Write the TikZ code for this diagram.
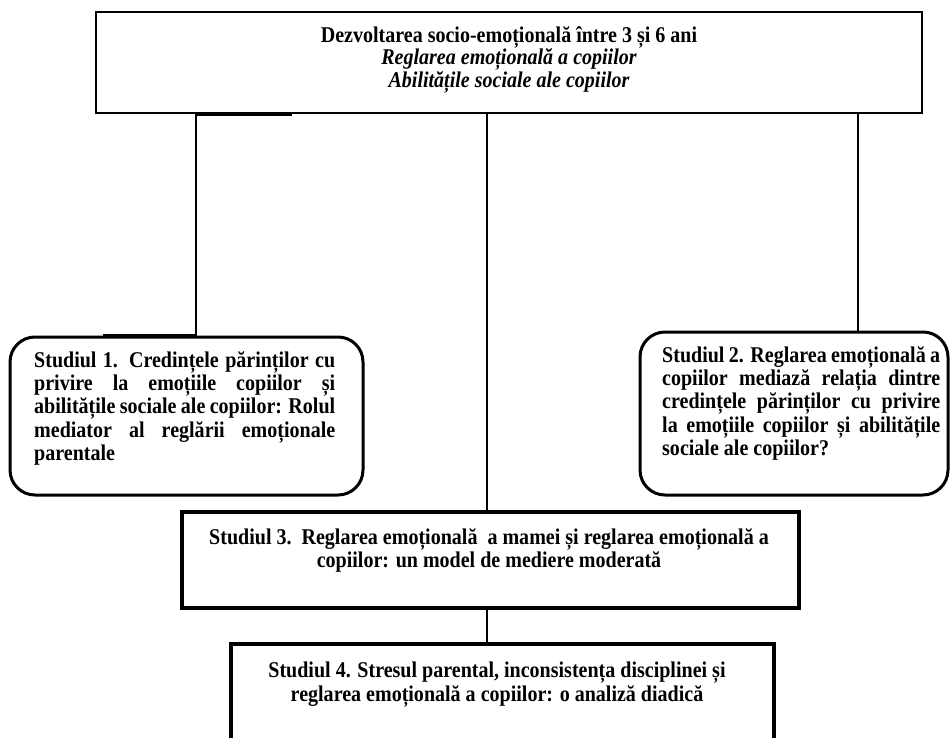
\documentclass[tikz,border=0pt]{standalone}
\usepackage{fontspec}
\setmainfont{Liberation Serif}[FakeStretch=0.89]
\begin{document}
\begin{tikzpicture}[x=1pt,y=-1pt]
\tikzset{
  topbox/.style={draw, line width=2pt, inner sep=0pt},
  sqbox/.style={draw, line width=3.3pt, inner sep=0pt},
  rbox/.style={draw, line width=3pt, rounded corners=25pt, inner sep=0pt},
  conn/.style={line width=2pt},
  heavy/.style={line width=3.6pt},
  txt/.style={font=\fontsize{22.5}{23.4}\selectfont\bfseries, inner sep=0pt},
  ctxt/.style={txt, align=center},
  ltxt/.style={txt, align=left},
}
\useasboundingbox (0,0) rectangle (951,738);
% boxes
\node[topbox, minimum width=826pt, minimum height=101pt] (top) at (509,62.5) {};
\node[rbox, minimum width=353pt, minimum height=158pt] (s1) at (186.5,416) {};
\node[rbox, minimum width=308pt, minimum height=163pt] (s2) at (794,413.5) {};
\node[sqbox, minimum width=617pt, minimum height=96pt] (s3) at (490.5,560) {};
\node[sqbox, minimum width=543pt, minimum height=120pt] (s4) at (502.5,704) {};
% texts
\node[ctxt, font=\fontsize{22.5}{20.5}\selectfont\bfseries, anchor=north] (toptxt) at (509,26)
  {Dezvoltarea socio-emoțională între 3 și 6 ani\\
   \itshape Reglarea emoțională a copiilor\\
   \itshape Abilitățile sociale ale copiilor};
\node[ltxt, anchor=north west] (s1txt) at (34,351)
  {\makebox[301pt][s]{Studiul 1. Credințele părinților cu}\\
   \makebox[301pt][s]{privire la emoțiile copiilor și}\\
   \makebox[301pt][s]{abilitățile sociale ale copiilor: Rolul}\\
   \makebox[301pt][s]{mediator al reglării emoționale}\\
   parentale};
\node[ltxt, anchor=north west] (s2txt) at (662,346)
  {\makebox[278pt][s]{Studiul 2. Reglarea emoțională a}\\
   \makebox[278pt][s]{copiilor mediază relația dintre}\\
   \makebox[278pt][s]{credințele părinților cu privire}\\
   \makebox[278pt][s]{la emoțiile copiilor și abilitățile}\\
   sociale ale copiilor?};
\node[ctxt, anchor=north] (s3txt) at (489,528)
  {Studiul 3.\ \ Reglarea emoțională\ \ a mamei și reglarea emoțională a\\
   copiilor: un model de mediere moderată};
\node[ctxt, anchor=north] (s4txt) at (497,662)
  {Studiul 4. Stresul parental, inconsistența disciplinei și\\
   reglarea emoțională a copiilor: o analiză diadică};
% connector x positions
\coordinate (xL) at (196,0);
\coordinate (xLa) at (103,0);
\coordinate (xLb) at (292,0);
\coordinate (xM) at (487,0);
\coordinate (xR) at (858,0);
% connectors
\draw[conn] (top.south -| xL) -- (s1.north -| xL);
\draw[conn] (top.south -| xM) -- (s3.north -| xM);
\draw[conn] (top.south -| xR) -- (s2.north -| xR);
\draw[conn] (s3.south -| xM) -- (s4.north -| xM);
% heavier short segments
\draw[heavy] (top.south -| xL) -- (top.south -| xLb);
\draw[heavy] (s1.north -| xLa) -- (s1.north -| xL);
\end{tikzpicture}
\end{document}
